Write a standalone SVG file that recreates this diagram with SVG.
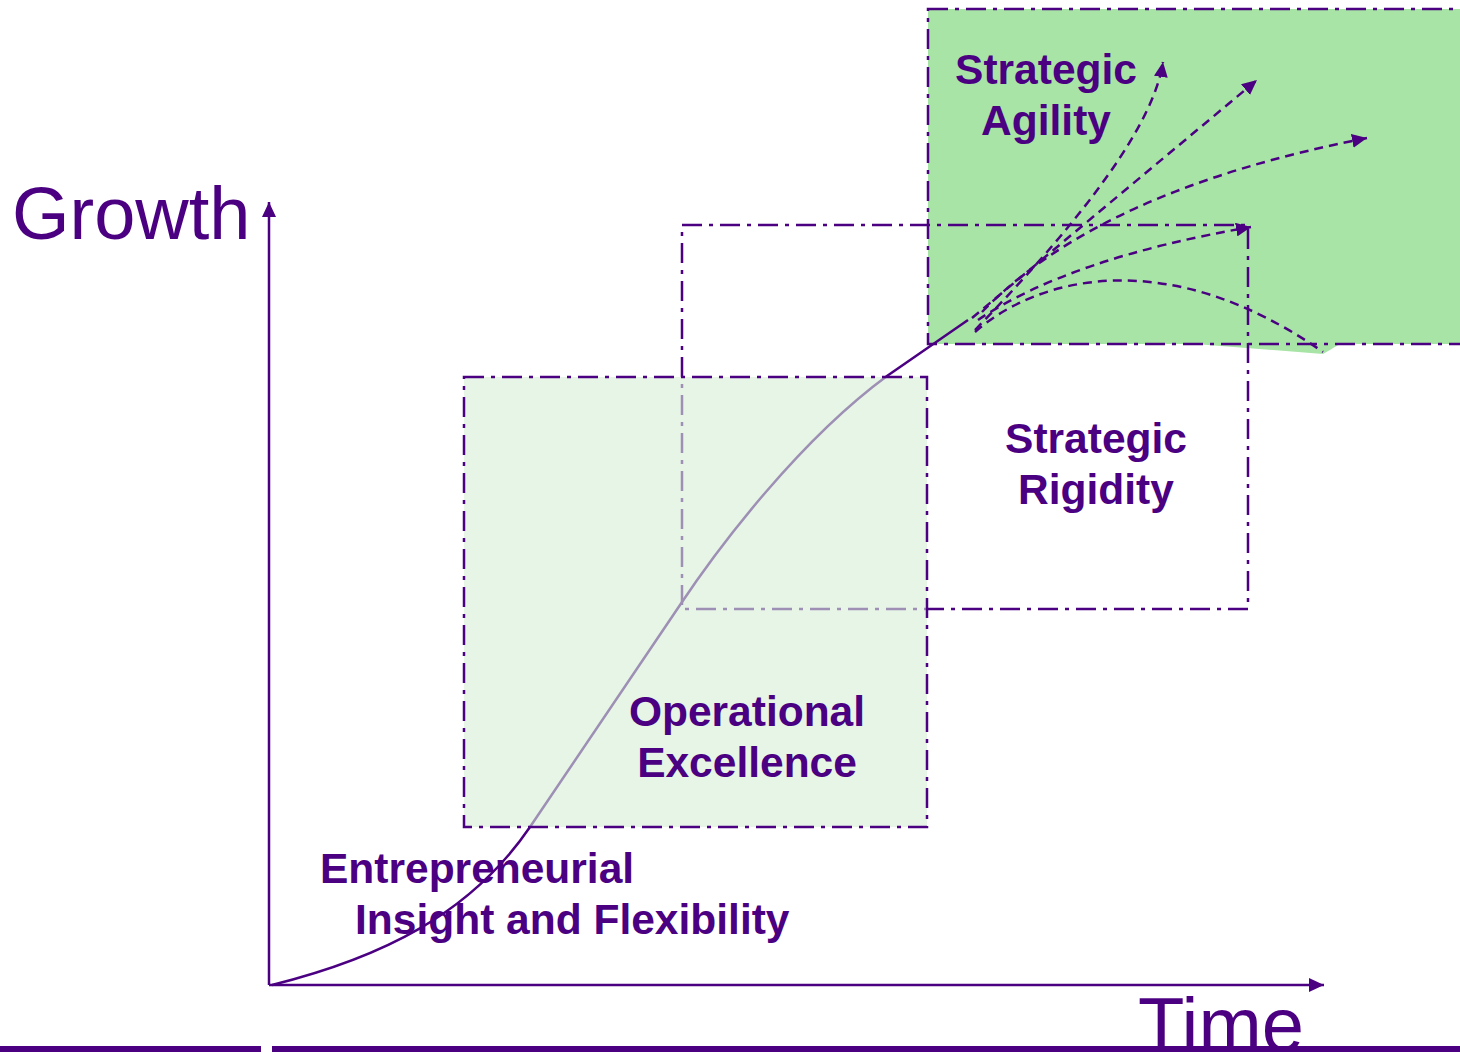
<svg xmlns="http://www.w3.org/2000/svg" width="1460" height="1052" viewBox="0 0 1460 1052">
<defs>
<style>
.box{stroke:#4b0082;stroke-width:2.5;stroke-dasharray:20 7 4 7;}
.lbl{font-family:"Liberation Sans",Arial,sans-serif;font-weight:bold;font-size:42.5px;fill:#4b0082;}
.big{font-family:"Liberation Sans",Arial,sans-serif;fill:#4b0082;}
.axis{stroke:#4b0082;stroke-width:2.5;fill:none;}
.dash{stroke:#4b0082;stroke-width:2.5;fill:none;stroke-dasharray:9 6;}
</style>
<marker id="ah" markerUnits="userSpaceOnUse" markerWidth="16" markerHeight="14" refX="15" refY="7" orient="auto">
<path d="M0,0 L15,7 L0,14 z" fill="#4b0082"/>
</marker>
</defs>
<rect width="1460" height="1052" fill="#ffffff"/>
<g id="agility">
<polygon points="1195,344 1323,354 1340,344" fill="#a8e4a6"/>
<rect class="box" x="928" y="9" width="540" height="335" fill="#a8e4a6"/>
<text class="lbl" x="1046" y="84" text-anchor="middle">Strategic</text>
<text class="lbl" x="1046" y="135" text-anchor="middle">Agility</text>
</g>
<g id="rigidity">
<rect class="box" x="682" y="225" width="566" height="384" fill="none"/>
<text class="lbl" x="1096" y="453" text-anchor="middle">Strategic</text>
<text class="lbl" x="1096" y="504" text-anchor="middle">Rigidity</text>
</g>
<g id="connectors">
<path class="axis" d="M269,985 L269,202" marker-end="url(#ah)"/>
<path class="axis" d="M269,985 L1324,985" marker-end="url(#ah)"/>
<path d="M272,985 C380,958 470,915 530,827 C580,753 630,679 680,605 C720,545 800,440 887,376 L968,320" fill="none" stroke="#4b0082" stroke-width="2.5"/>
<path class="dash" d="M975,330 Q1150,150 1163,62" marker-end="url(#ah)"/>
<path class="dash" d="M972,318 L1257,80" marker-end="url(#ah)"/>
<path class="dash" d="M982,312 Q1100,190 1367,138" marker-end="url(#ah)"/>
<path class="dash" d="M978,320 Q1070,258 1251,227" marker-end="url(#ah)"/>
<path class="dash" d="M975,332 C1040,275 1170,245 1323,352"/>
</g>
<g id="operational">
<rect class="box" x="464" y="377" width="463" height="450" fill="rgb(213,238,213)" fill-opacity="0.6"/>
<text class="lbl" x="747" y="726" text-anchor="middle">Operational</text>
<text class="lbl" x="747" y="777" text-anchor="middle">Excellence</text>
</g>
<g id="entrepreneurial">
<text class="lbl" x="320" y="883">Entrepreneurial</text>
<text class="lbl" x="355" y="934">Insight and Flexibility</text>
</g>
<g id="axes-labels">
<text class="big" x="12" y="239" font-size="74">Growth</text>
<text class="big" x="1138" y="1051" font-size="76">Time</text>
</g>
<g id="bars">
<rect x="0" y="1046" width="261" height="6" fill="#4b0082"/>
<rect x="272" y="1046" width="1188" height="6" fill="#4b0082"/>
</g>
</svg>
